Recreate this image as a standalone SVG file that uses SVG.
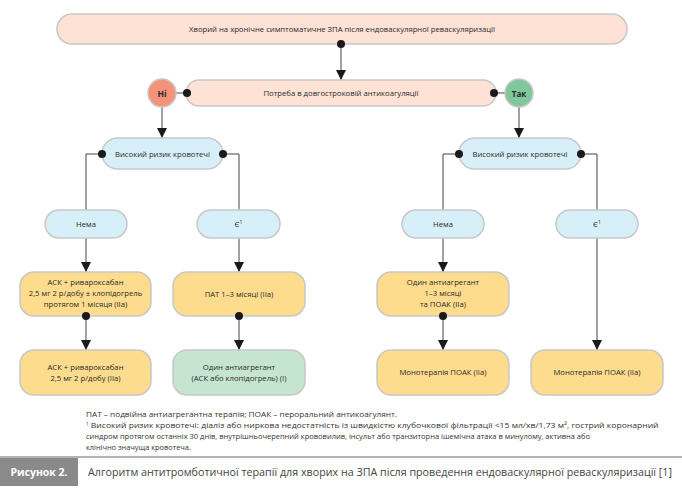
<svg xmlns="http://www.w3.org/2000/svg" width="682" height="489" viewBox="0 0 682 489">
<defs>
<style>
text{font-family:"Open Sans","Noto Sans","Liberation Sans",sans-serif;fill:#2a2a2a;text-anchor:middle}
.t{font-size:7.7px}
.box{stroke:#c8c8c8;stroke-width:1.5}
.pink{fill:#fde2d5}
.blue{fill:#d7eff9}
.yel{fill:#fedc8d}
.grn{fill:#c5e5d0}
.ln{stroke:#444;stroke-width:1;fill:none}
.dot{fill:#1a1a1a}
.foot{font-size:7.4px;text-anchor:start;fill:#333}
</style>
<marker id="arr" viewBox="0 0 10 10" refX="10" refY="5" markerWidth="10" markerHeight="10" markerUnits="userSpaceOnUse" orient="auto">
<path d="M0,0 L10,5 L0,10 z" fill="#1a1a1a"/>
</marker>
</defs>
<rect width="682" height="489" fill="#fff"/>

<g id="connectors">
<line class="ln" x1="341" y1="44" x2="341" y2="80" marker-end="url(#arr)"/>
<line class="ln" x1="176" y1="93" x2="186" y2="93"/>
<line class="ln" x1="496" y1="93" x2="505" y2="93"/>
<line class="ln" x1="162" y1="107" x2="162" y2="138" marker-end="url(#arr)"/>
<line class="ln" x1="519" y1="107" x2="519" y2="138" marker-end="url(#arr)"/>
<polyline class="ln" points="102,154 86,154 86,210"/>
<polyline class="ln" points="223,154 239,154 239,210"/>
<polyline class="ln" points="459,154 443,154 443,210"/>
<polyline class="ln" points="581,154 597,154 597,210"/>
<line class="ln" x1="86" y1="238" x2="86" y2="272" marker-end="url(#arr)"/>
<line class="ln" x1="239" y1="238" x2="239" y2="272" marker-end="url(#arr)"/>
<line class="ln" x1="443" y1="238" x2="443" y2="272" marker-end="url(#arr)"/>
<line class="ln" x1="597" y1="238" x2="597" y2="350" marker-end="url(#arr)"/>
<line class="ln" x1="86" y1="316" x2="86" y2="350" marker-end="url(#arr)"/>
<line class="ln" x1="239" y1="316" x2="239" y2="350" marker-end="url(#arr)"/>
<line class="ln" x1="443" y1="316" x2="443" y2="350" marker-end="url(#arr)"/>
</g>

<g id="n-start">
<rect class="box pink" x="57" y="14" width="570" height="30" rx="15"/>
<text class="t" x="342" y="32">Хворий на хронічне симптоматичне ЗПА після ендоваскулярної реваскуляризації</text>
</g>
<g id="n-anticoag">
<rect class="box pink" x="186" y="80" width="310" height="26" rx="13"/>
<text class="t" x="341" y="96">Потреба в довгостроковій антикоагуляції</text>
</g>
<g id="n-no">
<circle cx="162" cy="93" r="14" fill="#f4937a" stroke="#c8c8c8" stroke-width="1.5"/>
<text x="162" y="96.5" style="font-size:8.5px;font-weight:bold">Ні</text>
</g>
<g id="n-yes">
<circle cx="519" cy="93" r="14" fill="#80c89c" stroke="#c8c8c8" stroke-width="1.5"/>
<text x="519" y="96.5" style="font-size:8px;font-weight:bold">Так</text>
</g>

<g id="n-bleed-left">
<rect class="box blue" x="102" y="138" width="121" height="31" rx="15.5"/>
<text class="t" x="162.5" y="157">Високий ризик кровотечі</text>
</g>
<g id="n-bleed-right">
<rect class="box blue" x="459" y="138" width="122" height="31" rx="15.5"/>
<text class="t" x="520" y="157">Високий ризик кровотечі</text>
</g>

<g id="n-none-left">
<rect class="box blue" x="45" y="210" width="82" height="28" rx="14"/>
<text class="t" x="86" y="227">Нема</text>
</g>
<g id="n-yes-left">
<rect class="box blue" x="197" y="210" width="83" height="28" rx="14"/>
<text class="t" x="238.5" y="227">Є<tspan dy="-3" style="font-size:5px">1</tspan></text>
</g>
<g id="n-none-right">
<rect class="box blue" x="402" y="210" width="82" height="28" rx="14"/>
<text class="t" x="443" y="227">Нема</text>
</g>
<g id="n-yes-right">
<rect class="box blue" x="556" y="210" width="82" height="28" rx="14"/>
<text class="t" x="597" y="227">Є<tspan dy="-3" style="font-size:5px">1</tspan></text>
</g>

<g id="n-ask-riva-clop">
<rect class="box yel" x="20" y="272" width="131" height="44" rx="14"/>
<text class="t" x="85.5" y="285">АСК + ривароксабан</text>
<text class="t" x="85.5" y="296">2,5 мг 2 р/добу ± клопідогрель</text>
<text class="t" x="85.5" y="307">протягом 1 місяця (IIa)</text>
</g>
<g id="n-pat">
<rect class="box yel" x="173" y="272" width="132" height="44" rx="14"/>
<text class="t" x="239" y="297">ПАТ 1–3 місяці (IIa)</text>
</g>
<g id="n-single-poak">
<rect class="box yel" x="377" y="272" width="132" height="44" rx="14"/>
<text class="t" x="443" y="285">Один антиагрегант</text>
<text class="t" x="443" y="296">1–3 місяці</text>
<text class="t" x="443" y="307">та ПОАК (IIa)</text>
</g>

<g id="n-ask-riva">
<rect class="box yel" x="20" y="350" width="131" height="45" rx="14"/>
<text class="t" x="85.5" y="370">АСК + ривароксабан</text>
<text class="t" x="85.5" y="381">2,5 мг 2  р/добу (IIa)</text>
</g>
<g id="n-single">
<rect class="box grn" x="173" y="350" width="132" height="45" rx="14"/>
<text class="t" x="239" y="370">Один антиагрегант</text>
<text class="t" x="239" y="381">(АСК або клопідогрель) (I)</text>
</g>
<g id="n-mono-1">
<rect class="box yel" x="377" y="350" width="132" height="45" rx="14"/>
<text class="t" x="443" y="375">Монотерапія ПОАК (IIa)</text>
</g>
<g id="n-mono-2">
<rect class="box yel" x="531" y="350" width="132" height="45" rx="14"/>
<text class="t" x="597" y="375">Монотерапія ПОАК (IIa)</text>
</g>

<g id="connector-dots">
<circle class="dot" cx="341" cy="44" r="4"/>
<circle class="dot" cx="187" cy="93" r="4"/>
<circle class="dot" cx="494" cy="93" r="4"/>
<circle class="dot" cx="102" cy="154" r="4"/>
<circle class="dot" cx="223" cy="154" r="4"/>
<circle class="dot" cx="459" cy="154" r="4"/>
<circle class="dot" cx="581" cy="154" r="4"/>
<circle class="dot" cx="86" cy="316" r="4"/>
<circle class="dot" cx="239" cy="316" r="4"/>
<circle class="dot" cx="443" cy="316" r="4"/>
</g>

<g id="footnotes">
<text class="foot" x="86" y="417" textLength="311" lengthAdjust="spacingAndGlyphs">ПАТ – подвійна антиагрегантна терапія; ПОАК – пероральний антикоагулянт.</text>
<text class="foot" x="86" y="428"><tspan dy="-2" style="font-size:4.5px">1</tspan><tspan dy="2" textLength="570" lengthAdjust="spacingAndGlyphs"> Високий ризик кровотечі: діаліз або ниркова недостатність із швидкістю клубочкової фільтрації &lt;15 мл/хв/1,73 м², гострий коронарний</tspan></text>
<text class="foot" x="86" y="439" textLength="504" lengthAdjust="spacingAndGlyphs">синдром протягом останніх 30 днів, внутрішньочерепний крововилив, інсульт або транзиторна ішемічна атака в минулому, активна або</text>
<text class="foot" x="86" y="450">клінічно значуща кровотеча.</text>
</g>

<g id="caption">
<line x1="0" y1="457" x2="682" y2="457" stroke="#9a9a9a" stroke-width="1.5"/>
<rect x="0" y="458" width="78" height="28" fill="#8a8a8a"/>
<text x="39" y="476" style="font-size:10.5px;font-weight:bold;fill:#fff">Рисунок 2.</text>
<text x="88" y="476" style="font-size:10.5px;text-anchor:start;fill:#444" textLength="584" lengthAdjust="spacingAndGlyphs">Алгоритм антитромботичної терапії для хворих на ЗПА після проведення ендоваскулярної реваскуляризації [1]</text>
</g>
</svg>
